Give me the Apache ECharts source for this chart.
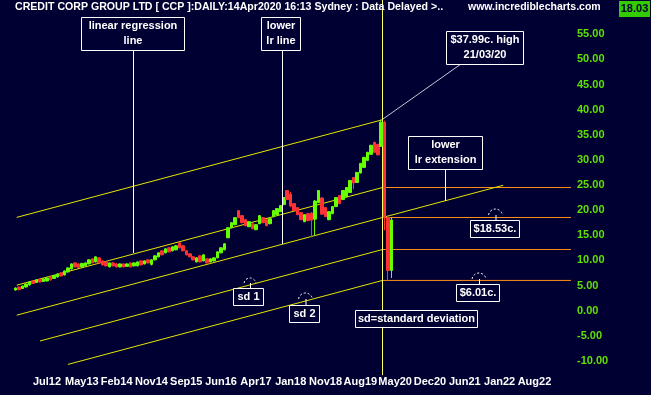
<!DOCTYPE html>
<html><head><meta charset="utf-8">
<script src="https://cdn.jsdelivr.net/npm/echarts@6/dist/echarts.min.js"></script>
<style>html,body{margin:0;padding:0;background:#000033;}#c{width:651px;height:395px;}</style>
</head><body><div id="c"></div>
<script>
// ---- data ----
const tickLabels = ["Jul12","May13","Feb14","Nov14","Sep15","Jun16","Apr17","Jan18","Nov18","Aug19","May20","Dec20","Jun21","Jan22","Aug22"];
const tickFirstCat = 13, tickStep = 10, nCats = 164;
const firstBar = 4; // category index of first candle
const opens  = [4.1,4.7,4.4,4.7,5.1,5.9,5.6,6.2,5.8,5.9,6.7,6.4,6.7,7.5,7.1,7.7,8.3,9.5,9.3,8.7,8.9,9.3,10.3,9.7,10.5,9.9,9.7,8.7,9.5,9.3,8.7,9.3,8.8,9.5,8.9,8.9,9.9,9.3,10.1,9.2,10.1,10.7,11.9,11.5,12.5,11.9,12.1,13.5,12.9,11.9,11.3,10.7,9.7,10.9,9.9,10.3,9.7,9.9,10.5,11.5,12.1,14.5,16.5,17.1,19.9,18.9,18.1,16.7,17.3,16.1,17.3,18.5,18.1,17.3,18.7,19.1,19.7,21.1,23.9,23.2,21.3,20.5,19.5,17.7,19.3,19.4,18.2,21.5,22.4,20.5,18.1,19.3,20.7,22.9,22.1,22.7,23.5,26.5,25.5,27.4,28.5,29.9,31.1,33.5,33.1,32.7,37.5,18.5,8.0];
const closes = [4.5,4.2,4.9,5.3,5.7,5.4,6.1,5.7,6.3,6.5,6.1,7.0,7.3,6.9,7.9,8.5,9.3,8.7,8.6,9.4,9.5,10.1,9.5,10.7,9.5,9.1,8.9,9.5,8.9,8.7,9.3,8.7,9.3,8.7,9.5,9.7,9.1,9.9,9.5,10.1,10.9,11.5,11.1,12.3,11.7,12.7,12.9,12.5,11.9,11.1,10.7,10.1,10.5,9.7,11.1,9.5,10.3,10.5,11.7,12.5,13.3,16.5,17.5,18.5,18.5,17.5,16.9,17.7,16.3,17.1,18.9,17.5,16.9,18.3,19.9,20.3,20.9,22.5,22.1,20.8,19.9,19.1,18.1,19.1,17.9,18.0,21.8,23.9,19.2,18.7,19.7,20.7,22.5,21.3,23.9,24.5,25.9,25.4,27.5,29.3,30.5,31.5,32.9,31.5,31.0,37.5,18.5,8.0,18.03];
const lows   = [4.0,4.0,4.3,4.6,5.0,5.3,5.5,5.6,5.7,5.8,6.0,6.3,6.6,6.8,7.0,7.6,8.2,8.6,8.5,8.6,8.8,9.2,9.4,9.6,9.4,9.0,8.8,8.6,8.8,8.6,8.6,8.6,8.7,8.6,8.8,8.8,9.0,9.2,9.4,9.0,10.0,10.6,11.0,11.4,11.6,11.8,12.0,12.4,11.8,11.0,10.6,10.0,9.6,9.6,9.8,9.4,9.6,9.8,10.4,11.4,12.0,14.4,16.4,17.0,18.4,17.4,16.8,16.6,16.2,16.0,17.2,17.4,16.8,17.2,18.6,19.0,19.6,21.0,22.0,20.6,19.8,19.0,18.0,17.6,17.8,14.6,15.0,21.4,19.0,18.6,18.0,19.2,20.6,21.2,22.0,22.6,23.4,24.2,25.4,27.3,28.4,29.8,31.0,31.4,30.9,32.6,16.0,6.01,6.5];
const highs  = [4.6,4.8,5.0,5.4,5.8,6.0,6.2,6.3,6.4,6.6,6.8,7.1,7.4,7.6,8.0,8.6,9.4,9.6,9.4,9.5,9.6,10.2,10.4,10.8,10.6,10.0,9.8,9.6,9.6,9.4,9.4,9.4,9.4,9.6,9.6,9.8,10.0,10.0,10.2,10.2,11.0,11.6,12.0,12.4,12.6,12.8,13.0,13.6,13.0,12.0,11.4,10.8,10.6,11.0,11.2,10.4,10.4,10.6,11.8,12.6,13.4,16.6,17.6,18.6,20.0,19.0,18.2,17.8,17.4,17.2,19.0,18.6,18.2,18.4,20.0,20.4,21.0,22.6,24.0,23.6,21.4,20.6,19.6,19.2,19.4,19.6,22.0,24.0,22.6,20.6,19.8,20.8,22.6,23.0,24.0,24.6,26.0,26.6,27.6,29.4,30.6,31.6,33.0,33.6,33.2,37.99,37.8,19.0,18.6];
const yTicksShown = [-10, 55];
// regression channel (x in bar-slot units, y in $)
const peakIdx = 109.36, peakPrice = 37.99;
const topLineStart = 4.3;
const channelSlope = 0.185;
const channelLevels = [24.5, 18.53, 12.16, 6.01]; // lr, lower lr, sd1, sd2 at the peak date
const channelStarts = [4.3, 4.3, 11.0, 19.0];
const lowerExtEnd = 144;
const lastPrice = "18.03";

const GREEN = '#66ff00', RED = '#ff3333', YEL = '#e6e600', ORANGE = '#ff8c1a';
const FONT = "'Liberation Sans', Arial, sans-serif";

const cats = Array.from({length:nCats}, (_, i) => String(i));
const tickMap = {};
tickLabels.forEach((t, k) => { tickMap[tickFirstCat + k*tickStep] = t; });

const candles = opens.map((o, k) => [firstBar + k, o, closes[k], lows[k], highs[k]]);

function seg(p1, p2, color, w) {
  return {type:'line', xAxisIndex:1, yAxisIndex:0, data:[p1, p2], symbol:'none', silent:true,
    lineStyle:{color:color, width:w||1}, z:3, animation:false};
}
const lineSeries = [];
lineSeries.push(seg([topLineStart, peakPrice - channelSlope*(peakIdx-topLineStart)], [peakIdx, peakPrice], YEL));
channelLevels.forEach((lv, k) => {
  const s = channelStarts[k];
  const endIdx = (k === 1) ? lowerExtEnd : peakIdx;
  lineSeries.push(seg([s, lv - channelSlope*(peakIdx - s)], [endIdx, lv + channelSlope*(endIdx - peakIdx)], YEL));
  lineSeries.push(seg([peakIdx, lv], [nCats - 0.5, lv], ORANGE));
});
lineSeries.push(seg([peakIdx, -12.85], [peakIdx, 70], '#ffff66'));

const chart = echarts.init(document.getElementById('c'), null, {renderer:'canvas'});

function box(x, y, w, h, lines) {
  const els = [{type:'rect', shape:{x:x+0.5, y:y+0.5, width:w, height:h},
    style:{fill:'#000033', stroke:'#ffffff', lineWidth:1}, z:10}];
  lines.forEach((t, k) => {
    els.push({type:'text', x:x + w/2 + 0.5, y:y + 3 + k*15, z:11,
      style:{text:t, fill:'#ffffff', font:"bold 11px " + FONT, textAlign:'center', textVerticalAlign:'top'}});
  });
  return els;
}
function vline(x, y1, y2, color) {
  return {type:'line', shape:{x1:x+0.5, y1:y1, x2:x+0.5, y2:y2}, style:{stroke:color||'#ffffff', lineWidth:1}, z:9};
}
function arcMark(cx, cy, r, yBox) {
  return [
    {type:'arc', shape:{cx:cx, cy:cy, r:r, startAngle:Math.PI*1.05, endAngle:Math.PI*1.95}, style:{stroke:'#ffffff', lineWidth:1, lineDash:[2,2], fill:null}, z:9},
    {type:'line', shape:{x1:cx+0.5, y1:cy-1, x2:cx+0.5, y2:yBox}, style:{stroke:'#ffffff', lineWidth:1}, z:9}
  ];
}

const graphics = [].concat(
  [{type:'text', x:15, y:2, z:12, style:{text:'CREDIT CORP GROUP LTD [ CCP ]:DAILY:14Apr2020 16:13 Sydney : Data Delayed >..', fill:'#ffffff', font:"bold 10.6px " + FONT}},
   {type:'text', x:468, y:2, z:12, style:{text:'www.incrediblecharts.com', fill:'#ffffff', font:"bold 10.5px " + FONT}},
   {type:'rect', shape:{x:619, y:1, width:31, height:16}, style:{fill:'#33cc00'}, z:12},
   {type:'text', x:634.5, y:3, z:13, style:{text:lastPrice, fill:'#000033', font:"bold 11px " + FONT, textAlign:'center'}}],
  box(81, 17, 103, 33, ['linear regression', 'line']), [vline(133, 50, 253)],
  box(261, 17, 39, 33, ['lower', 'lr line']), [vline(282, 50, 244)],
  box(408, 136, 74, 33, ['lower', 'lr extension']), [vline(445, 169, 201)],
  [{type:'line', shape:{x1:383, y1:119, x2:461, y2:64}, style:{stroke:'#c8c8d8', lineWidth:1}, z:9}],
  box(446, 31, 77, 33, ['$37.99c. high', '21/03/20']),
  arcMark(495.5, 216, 7, 220), box(470, 220, 49, 17, ['$18.53c.']),
  arcMark(479, 280, 7, 284), box(456, 284, 43, 17, ['$6.01c.']),
  arcMark(250, 284, 6, 288), box(233, 288, 30, 17, ['sd 1']),
  arcMark(305.5, 300, 7, 305), box(289, 305, 30, 17, ['sd 2']),
  box(355, 310, 122, 17, ['sd=standard deviation'])
);

chart.setOption({
  backgroundColor:'#000033',
  animation:false,
  grid:{left:0, width:571, top:-16, height:402, containLabel:false, outerBoundsMode:'none'},
  xAxis:[
    {type:'category', data:cats, boundaryGap:true, position:'bottom',
     axisLine:{show:false}, axisTick:{show:false}, splitLine:{show:false},
     axisLabel:{show:true, margin:-10, color:'#ffffff', fontWeight:'bold', fontSize:11, fontFamily:FONT,
       interval:(idx) => tickMap[idx] !== undefined,
       formatter:(v, idx) => tickMap[idx] || ''}},
    {type:'value', min:-0.5, max:nCats-0.5, show:false}
  ],
  yAxis:{type:'value', position:'right', min:-15, max:65, interval:5, scale:false,
    axisLine:{show:false}, axisTick:{show:false}, splitLine:{show:false},
    axisLabel:{margin:6, color:'#5fe000', fontWeight:'bold', fontSize:11, fontFamily:FONT, align:'left',
      formatter:(v) => (v >= yTicksShown[0] && v <= yTicksShown[1]) ? v.toFixed(2) : ''}},
  series:[
    {type:'candlestick', xAxisIndex:0, yAxisIndex:0, data:candles, encode:{x:0, y:[1,2,3,4]},
     barWidth:3, z:4,
     itemStyle:{color:GREEN, color0:RED, borderColor:GREEN, borderColor0:RED, borderWidth:1}}
  ].concat(lineSeries),
  graphic:graphics
});
</script></body></html>
